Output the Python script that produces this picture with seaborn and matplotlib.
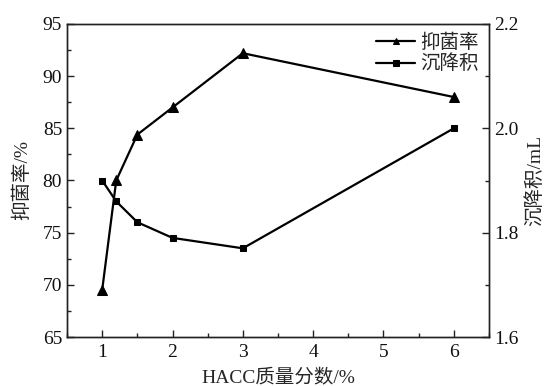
import matplotlib
matplotlib.use("Agg")
import matplotlib.pyplot as plt
from matplotlib.ticker import MultipleLocator, FormatStrFormatter
import seaborn as sns
import pandas as pd

# HACC mass fraction (%)
concentration = [1, 1.2, 1.5, 2, 3, 6]
# antibacterial rate (%)
inhibition_rate = [69.5, 80.0, 84.4, 87.0, 92.2, 88.0]
# sedimentation volume (mL)
sediment_volume = [1.90, 1.86, 1.82, 1.79, 1.77, 2.00]

x_label = "HACC质量分数/%"
left_label = "抑菌率/%"
right_label = "沉降积/mL"
series_names = ["抑菌率", "沉降积"]

df = pd.DataFrame({"conc": concentration, "rate": inhibition_rate, "vol": sediment_volume})

sns.set_style("ticks")
plt.rcParams["font.family"] = ["Liberation Serif", "Noto Sans CJK SC"]
plt.rcParams["axes.linewidth"] = 1.0
plt.rcParams["axes.edgecolor"] = "#222222"

FS = 14

fig = plt.figure(figsize=(5.5, 3.86), dpi=100)
ax = fig.add_axes([67 / 550, 1 - 337 / 386, (489 - 67) / 550, (337 - 24) / 386])
ax2 = ax.twinx()

sns.lineplot(data=df, x="conc", y="rate", ax=ax, color="black", linewidth=1.6,
             marker="^", markersize=6.5, markeredgecolor="black", label=series_names[0],
             legend=False)
sns.lineplot(data=df, x="conc", y="vol", ax=ax2, color="black", linewidth=1.6,
             marker="s", markersize=5, markeredgecolor="black", label=series_names[1],
             legend=False)

ax.set_xlim(0.5, 6.5)
ax.set_ylim(65, 95)
ax2.set_ylim(1.6, 2.2)

ax.xaxis.set_major_locator(MultipleLocator(1))
ax.xaxis.set_minor_locator(MultipleLocator(0.5))
ax.yaxis.set_major_locator(MultipleLocator(5))
ax.yaxis.set_minor_locator(MultipleLocator(2.5))
ax2.yaxis.set_major_locator(MultipleLocator(0.2))
ax2.yaxis.set_minor_locator(MultipleLocator(0.1))
ax2.yaxis.set_major_formatter(FormatStrFormatter("%.1f"))

for a in (ax, ax2):
    a.tick_params(which="major", direction="in", length=5, width=1, labelsize=FS,
                  colors="#222222", labelcolor="#111111")
    a.tick_params(which="minor", direction="in", length=3, width=1, colors="#222222")
    for s in a.spines.values():
        s.set_visible(True)
        s.set_color("#222222")
ax.tick_params(axis="x", pad=5)
ax.tick_params(axis="y", pad=3.5)
ax2.tick_params(axis="y", pad=3.5)

ax.set_xlabel(x_label, fontsize=FS, labelpad=6)
ax.set_ylabel(left_label, fontsize=FS, labelpad=8)
ax2.set_ylabel(right_label, fontsize=FS, labelpad=5)

h1, l1 = ax.get_legend_handles_labels()
h2, l2 = ax2.get_legend_handles_labels()
ax2.legend(h1 + h2, series_names, loc="upper right", frameon=False, fontsize=FS,
           handlelength=2.0, handletextpad=0.25, labelspacing=0.15, markerscale=0.75,
           borderaxespad=0.0, borderpad=0.0, bbox_to_anchor=(0.975, 0.97))

fig.savefig("out.png", dpi=100)
